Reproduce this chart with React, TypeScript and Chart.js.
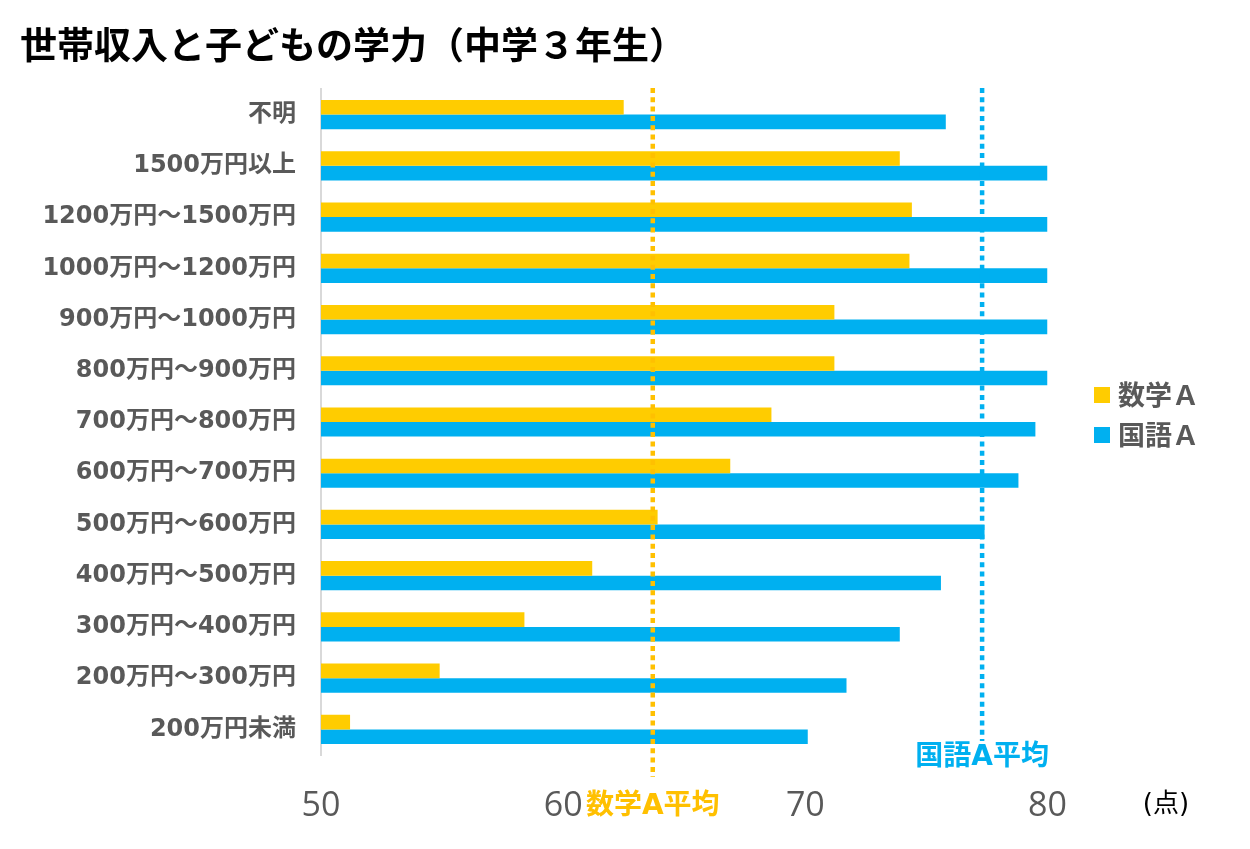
import React, { useRef, useEffect } from 'react';
import { Chart, registerables } from 'chart.js';

Chart.register(...registerables);

// Data
const categories = [
  '不明',
  '1500万円以上',
  '1200万円～1500万円',
  '1000万円～1200万円',
  '900万円～1000万円',
  '800万円～900万円',
  '700万円～800万円',
  '600万円～700万円',
  '500万円～600万円',
  '400万円～500万円',
  '300万円～400万円',
  '200万円～300万円',
  '200万円未満',
];
const mathScores = [62.5, 73.9, 74.4, 74.3, 71.2, 71.2, 68.6, 66.9, 63.9, 61.2, 58.4, 54.9, 51.2];
const japaneseScores = [75.8, 80, 80, 80, 80, 80, 79.5, 78.8, 77.4, 75.6, 73.9, 71.7, 70.1];
const seriesNames = ['数学Ａ', '国語Ａ'];
const seriesColors = ['#FFCC00', '#00B0F0'];
const averageValues = [63.7, 77.3];
const averageLabels = ['数学A平均', '国語A平均'];
const averageColors = ['#FFC000', '#00B0F0'];
const xTicks = [50, 60, 70, 80];

const titleText = '世帯収入と子どもの学力（中学３年生）';
const unitText = '(点)';

const CJK = '"DejaVu Sans", "Noto Sans CJK JP", sans-serif';

// draws the title, legend, the two average lines and the unit label
const overlayPlugin = {
  id: 'overlay',
  afterDatasetsDraw(chart: any) {
    const { ctx, chartArea, scales } = chart;
    const x = scales.x;
    ctx.save();
    averageValues.forEach((v, i) => {
      const px = x.getPixelForValue(v);
      const bottom = i === 0 ? chartArea.bottom + 22 : chartArea.bottom - 14;
      ctx.strokeStyle = averageColors[i];
      ctx.lineWidth = 4.5;
      ctx.setLineDash([5, 4.3]);
      ctx.lineCap = 'butt';
      ctx.beginPath();
      ctx.moveTo(px, chartArea.top - 1);
      ctx.lineTo(px, bottom);
      ctx.stroke();

      ctx.setLineDash([]);
      ctx.fillStyle = averageColors[i];
      ctx.font = `bold 28px ${CJK}`;
      ctx.textAlign = 'center';
      ctx.textBaseline = 'middle';
      const ly = i === 0 ? chartArea.bottom + 52 : chartArea.bottom + 3;
      ctx.fillText(averageLabels[i], px, ly);
    });
    ctx.restore();
  },
  afterDraw(chart: any) {
    const { ctx, chartArea } = chart;
    ctx.save();
    // title
    ctx.fillStyle = '#000000';
    ctx.font = `bold 37px "Noto Sans CJK JP", sans-serif`;
    ctx.textAlign = 'left';
    ctx.textBaseline = 'middle';
    ctx.fillText(titleText, 20, 45);

    // legend
    seriesNames.forEach((name, i) => {
      const cy = 395 + i * 40;
      ctx.fillStyle = seriesColors[i];
      ctx.fillRect(1094, cy - 8, 16, 16);
      ctx.fillStyle = '#595959';
      ctx.font = `bold 27px "Noto Sans CJK JP", sans-serif`;
      ctx.textAlign = 'left';
      ctx.textBaseline = 'middle';
      ctx.fillText(name, 1118, cy);
    });

    // unit
    ctx.fillStyle = '#000000';
    ctx.font = `26px ${CJK}`;
    ctx.textAlign = 'center';
    ctx.textBaseline = 'middle';
    ctx.fillText(unitText, 1166, chartArea.bottom + 50);
    ctx.restore();
  },
};

const App: React.FC = () => {
  const chartRef = useRef<HTMLCanvasElement>(null);
  const chartInstance = useRef<Chart | null>(null);

  useEffect(() => {
    if (!chartRef.current) return;
    if (chartInstance.current) chartInstance.current.destroy();
    const ctx = chartRef.current.getContext('2d');
    if (!ctx) return;

    chartInstance.current = new Chart(ctx, {
      type: 'bar',
      data: {
        labels: categories,
        datasets: [
          { label: seriesNames[0], data: mathScores, backgroundColor: seriesColors[0] },
          { label: seriesNames[1], data: japaneseScores, backgroundColor: seriesColors[1] },
        ],
      },
      options: {
        indexAxis: 'y',
        responsive: true,
        maintainAspectRatio: false,
        animation: false,
        layout: { padding: { top: 89, right: 202.5, left: 0, bottom: 0 } },
        datasets: {
          bar: { categoryPercentage: 0.57, barPercentage: 1 },
        },
        plugins: {
          legend: { display: false },
          title: { display: false },
          tooltip: { enabled: false },
        },
        scales: {
          x: {
            min: 50,
            max: 80,
            grid: { display: false },
            border: { display: false },
            afterBuildTicks: (scale: any) => {
              scale.ticks = xTicks.map((v) => ({ value: v }));
            },
            afterFit: (scale: any) => {
              scale.height = 94;
            },
            ticks: {
              color: '#595959',
              padding: 23,
              maxRotation: 0,
              font: { family: '"Open Sans", sans-serif', size: 34 },
            },
          },
          y: {
            grid: { display: false },
            border: { display: true, color: '#D9D9D9', width: 2 },
            afterFit: (scale: any) => {
              scale.width = 321;
            },
            ticks: {
              autoSkip: false,
              color: '#595959',
              padding: 17,
              font: { family: '"DejaVu Sans", "Noto Sans CJK JP", sans-serif', size: 24, weight: 'bold' },
            },
          },
        },
      },
      plugins: [overlayPlugin],
    });

    return () => {
      if (chartInstance.current) {
        chartInstance.current.destroy();
        chartInstance.current = null;
      }
    };
  }, []);

  return (
    <div style={{ position: 'absolute', left: 0, top: 0, width: 1250, height: 849, background: '#ffffff' }}>
      <canvas ref={chartRef} />
    </div>
  );
};

export default App;
